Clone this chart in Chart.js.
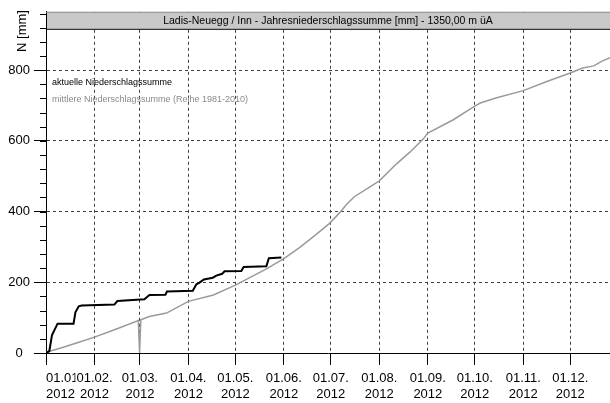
<!DOCTYPE html>
<html>
<head>
<meta charset="utf-8">
<script src="https://cdn.jsdelivr.net/npm/chart.js@4.4.1/dist/chart.umd.min.js"></script>
<style>
html, body { margin: 0; padding: 0; background: #fff; }
</style>
</head>
<body>
<canvas id="rain" width="610" height="403"></canvas>
<script>
const FONT = '"Liberation Sans", Arial, sans-serif';
const titleText = 'Ladis-Neuegg / Inn - Jahresniederschlagssumme [mm] - 1350,00 m üA';
const yTitle = 'N [mm]';

// Tage seit 01.01.2012 (Schaltjahr)
const monthTicks = [0, 31, 60, 91, 121, 152, 182, 213, 244, 274, 305, 335];
const monthLabels = ['01.01.', '01.02.', '01.03.', '01.04.', '01.05.', '01.06.',
                     '01.07.', '01.08.', '01.09.', '01.10.', '01.11.', '01.12.'];
const yearLabel = '2012';
const yTicks = [0, 200, 400, 600, 800];
const yMinorStep = 40;

// aktuelle Niederschlagssumme
const currentDays = [0, 2.1, 3.8, 5.3, 7.4, 17.6, 18.8, 20.9, 22.8, 43.7, 45.6, 62.9, 66.1, 76.3,
                     77.3, 93.8, 96, 98.1, 100.9, 106.6, 108.8, 112.6, 114.1, 124.8, 126.3, 140.8, 142.4, 150.4];
const currentVals = [0, 5, 50, 64, 83, 83, 115, 132, 134, 137, 147, 152, 164, 165,
                     174, 176, 194, 199, 208, 213, 219, 224, 231, 232, 243, 245, 268, 270];

// mittlere Niederschlagssumme 1981-2010 (kein Wert am 29.02.)
const meanDays = [0, 10, 20, 31, 45, 59, 59.8, 60.6, 66, 77, 91, 107, 121, 140, 152, 162, 171.7, 181,
                  187.7, 192, 197, 207, 213, 224, 232.5, 241, 244, 260, 274, 277.5, 288, 305, 320,
                  335, 343, 350, 355, 360.4];
const meanVals = [2, 15, 29, 45, 68, 92, 0, 94, 103, 113, 146, 164, 192, 236, 267, 298, 332, 366,
                  397, 420, 442, 470, 487, 535, 568, 605, 622, 659, 698, 707, 722, 742, 768,
                  792, 806, 812, 825, 835];

const frame = {
    id: 'frame',
    afterDraw(chart) {
        const ctx = chart.ctx;
        const area = chart.chartArea;
        const xs = chart.scales.x;
        const ys = chart.scales.y;
        ctx.save();

        // kleine Striche an der y-Achse
        ctx.strokeStyle = '#000';
        ctx.lineWidth = 1;
        for (let v = 0; v <= ys.max; v += yMinorStep) {
            const py = Math.round(ys.getPixelForValue(v)) + 0.5;
            ctx.beginPath();
            ctx.moveTo(area.left - 6, py);
            ctx.lineTo(area.left, py);
            ctx.stroke();
        }

        // Titelbalken
        ctx.fillStyle = '#c8c8c8';
        ctx.fillRect(area.left + 1, area.top, area.right - area.left, 17);
        ctx.strokeStyle = '#909090';
        ctx.beginPath();
        ctx.moveTo(area.left, area.top + 0.5);
        ctx.lineTo(area.right, area.top + 0.5);
        ctx.stroke();
        ctx.strokeStyle = '#000';
        ctx.beginPath();
        ctx.moveTo(area.left, area.top + 17.5);
        ctx.lineTo(area.right, area.top + 17.5);
        ctx.stroke();
        ctx.fillStyle = '#000';
        ctx.font = '10.5px ' + FONT;
        ctx.textAlign = 'center';
        ctx.textBaseline = 'middle';
        ctx.fillText(titleText, (area.left + area.right) / 2, area.top + 9);

        // Legende
        ctx.textAlign = 'left';
        ctx.font = '9px ' + FONT;
        ctx.fillStyle = '#000';
        ctx.fillText(chart.data.datasets[0].label, area.left + 6, 83);
        ctx.fillStyle = '#8a8a8a';
        ctx.fillText(chart.data.datasets[1].label, area.left + 6, 100);

        // x-Beschriftung
        ctx.font = '13px ' + FONT;
        monthTicks.forEach((d, i) => {
            const px = xs.getPixelForValue(d);
            const w1 = ctx.measureText(monthLabels[i]).width;
            const w2 = ctx.measureText(yearLabel).width;
            const w = Math.max(w1, w2);
            const left = i === 0 ? px : px - w / 2;
            if (i > 0) {
                ctx.fillStyle = '#fff';
                ctx.fillRect(left - 1, area.bottom + 14, w + 2, 34);
            }
            ctx.fillStyle = '#000';
            ctx.fillText(monthLabels[i], left + (i === 0 ? 0 : (w - w1) / 2), area.bottom + 25);
            ctx.fillText(yearLabel, left + (i === 0 ? 0 : (w - w2) / 2), area.bottom + 41);
        });

        // y-Titel
        ctx.translate(22, 31);
        ctx.rotate(-Math.PI / 2);
        ctx.textAlign = 'center';
        ctx.fillText(yTitle, 0, 0);
        ctx.restore();
    }
};

const gridColor = c => (c.tick && c.tick.value === 0) ? 'rgba(0,0,0,0)' : '#404040';

new Chart(document.getElementById('rain'), {
    type: 'line',
    data: {
        datasets: [{
            label: 'aktuelle Niederschlagssumme',
            data: currentDays.map((d, i) => ({ x: d, y: currentVals[i] })),
            borderColor: '#000',
            borderWidth: 2,
            pointRadius: 0,
            order: 0
        }, {
            label: 'mittlere Niederschlagssumme (Reihe 1981-2010)',
            data: meanDays.map((d, i) => ({ x: d, y: meanVals[i] })),
            borderColor: '#9a9a9a',
            borderWidth: 1.5,
            pointRadius: 0,
            order: 1
        }]
    },
    options: {
        responsive: false,
        animation: false,
        devicePixelRatio: 1,
        layout: { padding: { top: 7, left: 0, right: 0, bottom: 0 } },
        plugins: {
            legend: { display: false },
            tooltip: { enabled: false }
        },
        scales: {
            x: {
                type: 'linear',
                min: 0,
                max: 360.4,
                afterBuildTicks: s => { s.ticks = monthTicks.map(v => ({ value: v })); },
                afterFit: s => { s.height = 50; },
                ticks: { display: false },
                grid: { color: gridColor, tickColor: '#000', tickLength: 12, lineWidth: 1 },
                border: { color: '#000', width: 1, dash: [3, 3] }
            },
            y: {
                min: 0,
                max: 965,
                afterBuildTicks: s => { s.ticks = yTicks.map(v => ({ value: v })); },
                afterFit: s => { s.width = 46; },
                ticks: { color: '#000', font: { size: 13, family: FONT }, crossAlign: 'center', padding: 4 },
                grid: { color: gridColor, tickColor: '#000', tickLength: 12, lineWidth: 1 },
                border: { color: '#000', width: 1, dash: [3, 3] }
            }
        }
    },
    plugins: [frame]
});
</script>
</body>
</html>
